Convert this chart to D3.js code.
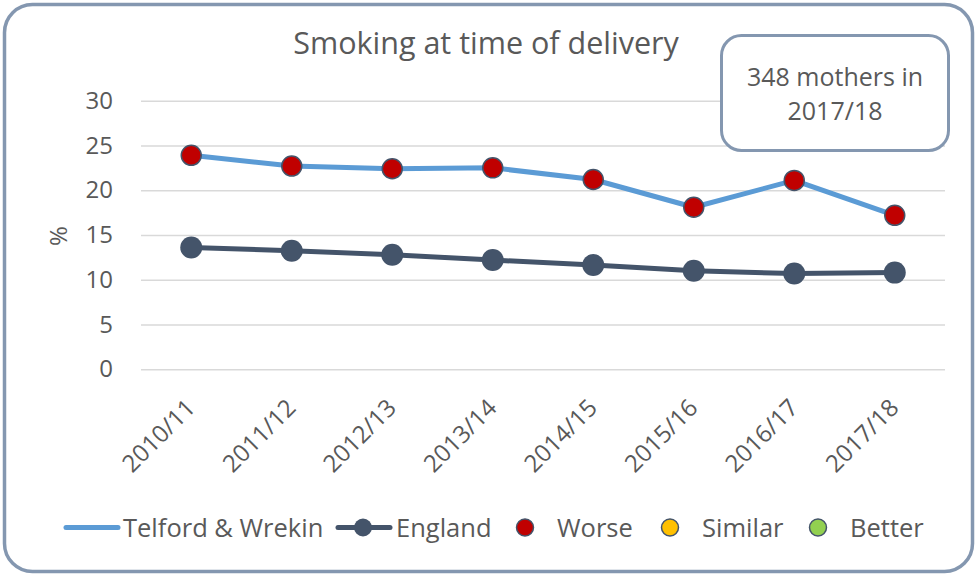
<!DOCTYPE html>
<html>
<head>
<meta charset="utf-8">
<script src="https://cdn.jsdelivr.net/npm/d3@7/dist/d3.min.js"></script>
<style>
  html, body { margin: 0; padding: 0; background: #ffffff; }
  svg { display: block; }
  text { font-family: "Open Sans", "Noto Sans", sans-serif; fill: #595959; }
</style>
</head>
<body>
<svg id="chart" width="977" height="577"></svg>
<script>
// Smoking at time of delivery, % of mothers
const years = ["2010/11", "2011/12", "2012/13", "2013/14", "2014/15", "2015/16", "2016/17", "2017/18"];
const telford = [23.9, 22.7, 22.4, 22.5, 21.2, 18.1, 21.1, 17.2];
const england = [13.6, 13.25, 12.8, 12.2, 11.65, 11.0, 10.7, 10.8];
// comparison with England for each year (Worse / Similar / Better)
const significance = ["Worse", "Worse", "Worse", "Worse", "Worse", "Worse", "Worse", "Worse"];
const yTicks = [0, 5, 10, 15, 20, 25, 30];
const legendItems = ["Telford & Wrekin", "England", "Worse", "Similar", "Better"];
const calloutLines = ["348 mothers in", "2017/18"];

const sigColour = { Worse: "#c00000", Similar: "#ffc000", Better: "#92d050" };
const telfordColour = "#5b9bd5";
const englandColour = "#44546a";
const frameColour = "#8497b0";
const font = "'Open Sans', 'Noto Sans', sans-serif";
const tickFs = 24;
const fs = 25.5;

const svg = d3.select("#chart");

// outer frame
svg.append("rect")
  .attr("x", 4.5).attr("y", 4.5)
  .attr("width", 968).attr("height", 567)
  .attr("rx", 28).attr("ry", 28)
  .attr("fill", "#ffffff")
  .attr("stroke", frameColour)
  .attr("stroke-width", 3.5);

const x = d3.scalePoint().domain(years).range([141, 945]).padding(0.5);
const y = d3.scaleLinear().domain([0, 30]).range([369.3, 100.7]);

// gridlines + y labels
const yAxis = d3.axisLeft(y).tickValues(yTicks).tickSize(-(945 - 141)).tickPadding(28);
const gy = svg.append("g").attr("transform", "translate(141,0)").call(yAxis);
gy.select(".domain").remove();
gy.selectAll(".tick line").attr("stroke", "#d9d9d9").attr("stroke-width", 1.5);
gy.selectAll(".tick text")
  .attr("font-size", tickFs)
  .attr("font-family", font)
  .attr("fill", "#595959");

// y axis title
svg.append("text")
  .attr("transform", "translate(67,236) rotate(-90)")
  .attr("text-anchor", "middle")
  .attr("font-size", tickFs)
  .text("%");

// x labels, rotated
const xAxis = d3.axisBottom(x).tickSize(0).tickPadding(0);
const gx = svg.append("g").attr("transform", "translate(0,369.3)").call(xAxis);
gx.select(".domain").remove();
gx.selectAll(".tick text")
  .attr("font-size", tickFs)
  .attr("font-family", font)
  .attr("fill", "#595959")
  .attr("text-anchor", "end")
  .attr("dy", null)
  .attr("y", 0)
  .attr("transform", "translate(5,40) rotate(-45)");

// title
svg.append("text")
  .attr("x", 486).attr("y", 54)
  .attr("text-anchor", "middle")
  .attr("font-size", 30.5)
  .text("Smoking at time of delivery");

// lines
const line = d3.line().x((d, i) => x(years[i])).y(d => y(d));

svg.append("path").datum(telford)
  .attr("d", line)
  .attr("fill", "none")
  .attr("stroke", telfordColour)
  .attr("stroke-width", 5)
  .attr("stroke-linejoin", "round");

svg.append("path").datum(england)
  .attr("d", line)
  .attr("fill", "none")
  .attr("stroke", englandColour)
  .attr("stroke-width", 5)
  .attr("stroke-linejoin", "round");

svg.append("g").selectAll("circle").data(england).join("circle")
  .attr("cx", (d, i) => x(years[i]))
  .attr("cy", d => y(d))
  .attr("r", 11)
  .attr("fill", englandColour);

svg.append("g").selectAll("circle").data(telford).join("circle")
  .attr("cx", (d, i) => x(years[i]))
  .attr("cy", d => y(d))
  .attr("r", 10)
  .attr("fill", (d, i) => sigColour[significance[i]])
  .attr("stroke", englandColour)
  .attr("stroke-width", 1.5);

// callout box
const callout = svg.append("g");
callout.append("rect")
  .attr("x", 721.5).attr("y", 35.5)
  .attr("width", 227).attr("height", 115)
  .attr("rx", 20).attr("ry", 20)
  .attr("fill", "#ffffff")
  .attr("stroke", frameColour)
  .attr("stroke-width", 3);
callout.selectAll("text").data(calloutLines).join("text")
  .attr("x", 835)
  .attr("y", (d, i) => 86 + i * 34)
  .attr("text-anchor", "middle")
  .attr("font-size", 25)
  .text(d => d);

// legend
const legend = svg.append("g").attr("class", "legend");
const ly = 527.5;
const lbase = ly + 9;

legend.append("line")
  .attr("x1", 66).attr("x2", 118).attr("y1", ly).attr("y2", ly)
  .attr("stroke", telfordColour).attr("stroke-width", 5).attr("stroke-linecap", "round");
legend.append("text").attr("x", 123).attr("y", lbase).attr("font-size", fs).text(legendItems[0]);

legend.append("line")
  .attr("x1", 338).attr("x2", 390).attr("y1", ly).attr("y2", ly)
  .attr("stroke", englandColour).attr("stroke-width", 5).attr("stroke-linecap", "round");
legend.append("circle").attr("cx", 363).attr("cy", ly).attr("r", 9).attr("fill", englandColour);
legend.append("text").attr("x", 396).attr("y", lbase).attr("font-size", fs).text(legendItems[1]);

const sigLegend = [
  { key: legendItems[2], cx: 525, tx: 557 },
  { key: legendItems[3], cx: 670, tx: 702 },
  { key: legendItems[4], cx: 818, tx: 850 }
];
sigLegend.forEach(s => {
  legend.append("circle")
    .attr("cx", s.cx).attr("cy", ly).attr("r", 8.5)
    .attr("fill", sigColour[s.key])
    .attr("stroke", englandColour).attr("stroke-width", 1.5);
  legend.append("text").attr("x", s.tx).attr("y", lbase).attr("font-size", fs).text(s.key);
});
</script>
</body>
</html>
